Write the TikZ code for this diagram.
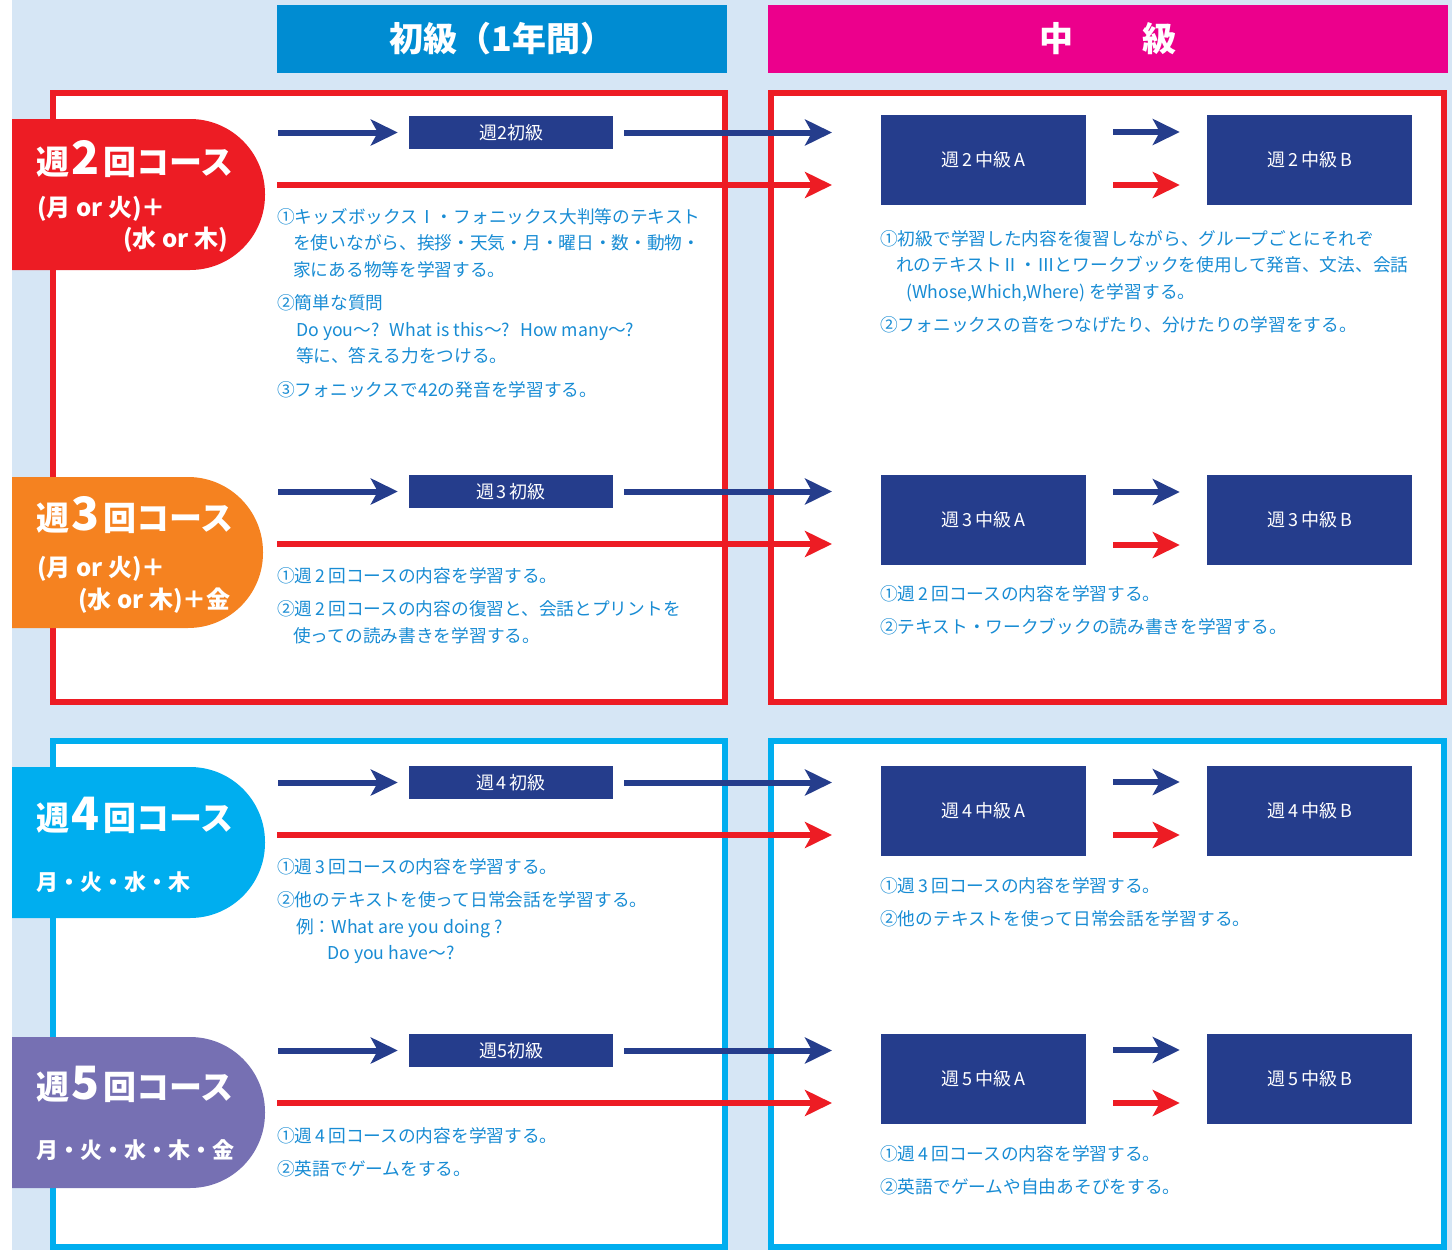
\documentclass[tikz,border=0pt]{standalone}
\usepackage{fontspec}
\setmainfont{Noto Sans CJK JP}
\usepackage{tikz}
\usetikzlibrary{arrows.meta,positioning,calc}
\definecolor{navy}{RGB}{37,61,140}
\definecolor{bgblue}{RGB}{214,230,245}
\definecolor{hdblue}{RGB}{0,140,210}
\definecolor{hdpink}{RGB}{236,0,140}
\definecolor{kred}{RGB}{237,28,36}
\definecolor{korange}{RGB}{245,130,32}
\definecolor{kcyan}{RGB}{0,174,239}
\definecolor{kpurple}{RGB}{118,112,179}
\definecolor{txtblue}{RGB}{24,140,212}
\tikzset{
    header/.style={
           fill=#1,
           text=white,
           minimum height=68pt,
           inner sep=0pt,
           font=\fontsize{34}{34}\selectfont\bfseries,
           },
    frame/.style={
           draw=#1,
           line width=6pt,
           fill=white,
           },
    shokyu/.style={
           fill=navy,
           text=white,
           minimum width=204pt,
           minimum height=33pt,
           inner sep=0pt,
           font=\fontsize{18}{18}\selectfont,
           },
    chukyu/.style={
           fill=navy,
           text=white,
           minimum width=205pt,
           minimum height=90pt,
           inner sep=0pt,
           font=\fontsize{18}{18}\selectfont,
           },
    pil/.style={
           -{Stealth[length=27pt,width=26pt,inset=7pt]},
           line width=6pt,
           draw=#1,
           },
    tabtitle/.style={
           anchor=base west,
           inner sep=0pt,
           text=white,
           font=\fontsize{33}{33}\selectfont\bfseries,
           },
    tabday/.style={
           inner sep=0pt,
           text=white,
           font=\fontsize{24}{24}\selectfont\bfseries,
           },
    note/.style={
           anchor=north west,
           inner sep=0pt,
           align=left,
           text=txtblue,
           font=\fontsize{17.7}{26.5}\selectfont,
           }
}

\begin{document}
\begin{tikzpicture}[x=1pt,y=-1pt]
\useasboundingbox (0,0) rectangle (1452,1250);
\fill[bgblue] (12,0) rectangle (1452,1250);
\node[header=hdblue, minimum width=450pt] (h1) at (502,39) {初級（1年間）};
\node[header=hdpink, minimum width=680pt] (h2) at (1108,39) {中\hspace{70pt}級};
\draw[frame=kred] (53,93) rectangle (725,702);
\draw[frame=kred] (771,93) rectangle (1444,702);
\draw[frame=kcyan] (53,741) rectangle (725,1247);
\draw[frame=kcyan] (771,741) rectangle (1444,1247);
\fill[kred] (12,119) [rounded corners=75pt] -- (265,119) -- (265,270) [sharp corners] -- (12,270) -- cycle;
\fill[korange] (12,477) [rounded corners=75pt] -- (263,477) -- (263,628) [sharp corners] -- (12,628) -- cycle;
\fill[kcyan] (12,767) [rounded corners=75pt] -- (265,767) -- (265,918) [sharp corners] -- (12,918) -- cycle;
\fill[kpurple] (12,1037) [rounded corners=75pt] -- (265,1037) -- (265,1188) [sharp corners] -- (12,1188) -- cycle;
\node[tabtitle] (c2) at (36,174) {週\kern2pt{\fontsize{46}{46}\selectfont 2}\kern4pt回コース};
\node[tabday, anchor=base west] (c2a) at (37,216) {(月 or 火)＋};
\node[tabday, anchor=base east] (c2b) at (228,247) {(水 or 木)};
\node[tabtitle] (c3) at (36,530) {週\kern2pt{\fontsize{46}{46}\selectfont 3}\kern4pt回コース};
\node[tabday, anchor=base west] (c3a) at (37,576) {(月 or 火)＋};
\node[tabday, anchor=base east] (c3b) at (231,608) {(水 or 木)＋金};
\node[tabtitle] (c4) at (36,830) {週\kern2pt{\fontsize{46}{46}\selectfont 4}\kern4pt回コース};
\node[tabday, anchor=base west, font=\fontsize{22}{22}\selectfont\bfseries] (c4a) at (36,890) {月・火・水・木};
\node[tabtitle] (c5) at (36,1099) {週\kern2pt{\fontsize{46}{46}\selectfont 5}\kern4pt回コース};
\node[tabday, anchor=base west, font=\fontsize{22}{22}\selectfont\bfseries] (c5a) at (36,1158) {月・火・水・木・金};
\node[shokyu] (s2) at (511,132.5) {週2初級};
\node[chukyu] (a2) at (983.5,160) {週\,2\,中級\,A};
\node[chukyu] (b2) at (1309.5,160) {週\,2\,中級\,B};
\coordinate (p2) at (278,132.5);
\coordinate (q2) at (832,132.5);
\coordinate (r2) at (277,185);
\coordinate (t2) at (832,185);
\path (p2) edge[pil=navy, shorten >=11pt] (s2);
\path (s2) edge[pil=navy, shorten <=11pt] (q2);
\path (r2) edge[pil=kred] (t2);
\path ([yshift=28pt]a2.east) edge[pil=navy, shorten <=27pt, shorten >=27pt] ([yshift=28pt]b2.west);
\path ([yshift=-25pt]a2.east) edge[pil=kred, shorten <=27pt, shorten >=27pt] ([yshift=-25pt]b2.west);
\node[shokyu] (s3) at (511,491.5) {週\,3\,初級};
\node[chukyu] (a3) at (983.5,520) {週\,3\,中級\,A};
\node[chukyu] (b3) at (1309.5,520) {週\,3\,中級\,B};
\coordinate (p3) at (278,491.5);
\coordinate (q3) at (832,491.5);
\coordinate (r3) at (277,544);
\coordinate (t3) at (832,544);
\path (p3) edge[pil=navy, shorten >=11pt] (s3);
\path (s3) edge[pil=navy, shorten <=11pt] (q3);
\path (r3) edge[pil=kred] (t3);
\path ([yshift=28pt]a3.east) edge[pil=navy, shorten <=27pt, shorten >=27pt] ([yshift=28pt]b3.west);
\path ([yshift=-25pt]a3.east) edge[pil=kred, shorten <=27pt, shorten >=27pt] ([yshift=-25pt]b3.west);
\node[shokyu] (s4) at (511,782.5) {週\,4\,初級};
\node[chukyu] (a4) at (983.5,811) {週\,4\,中級\,A};
\node[chukyu] (b4) at (1309.5,811) {週\,4\,中級\,B};
\coordinate (p4) at (278,782.5);
\coordinate (q4) at (832,782.5);
\coordinate (r4) at (277,835);
\coordinate (t4) at (832,835);
\path (p4) edge[pil=navy, shorten >=11pt] (s4);
\path (s4) edge[pil=navy, shorten <=11pt] (q4);
\path (r4) edge[pil=kred] (t4);
\path ([yshift=29pt]a4.east) edge[pil=navy, shorten <=27pt, shorten >=27pt] ([yshift=29pt]b4.west);
\path ([yshift=-24pt]a4.east) edge[pil=kred, shorten <=27pt, shorten >=27pt] ([yshift=-24pt]b4.west);
\node[shokyu] (s5) at (511,1050.5) {週5初級};
\node[chukyu] (a5) at (983.5,1079) {週\,5\,中級\,A};
\node[chukyu] (b5) at (1309.5,1079) {週\,5\,中級\,B};
\coordinate (p5) at (278,1050.5);
\coordinate (q5) at (832,1050.5);
\coordinate (r5) at (277,1103);
\coordinate (t5) at (832,1103);
\path (p5) edge[pil=navy, shorten >=11pt] (s5);
\path (s5) edge[pil=navy, shorten <=11pt] (q5);
\path (r5) edge[pil=kred] (t5);
\path ([yshift=29pt]a5.east) edge[pil=navy, shorten <=27pt, shorten >=27pt] ([yshift=29pt]b5.west);
\path ([yshift=-24pt]a5.east) edge[pil=kred, shorten <=27pt, shorten >=27pt] ([yshift=-24pt]b5.west);
\node[note] (n2) at (277,208) {①キッズボックスⅠ・フォニックス大判等のテキスト\\
\hspace*{16pt}を使いながら、挨拶・天気・月・曜日・数・動物・\\
\hspace*{16pt}家にある物等を学習する。\\[7pt]
②簡単な質問\\
\hspace*{19pt}Do you～?\hspace{10pt}What is this～?\hspace{10pt}How many～?\\
\hspace*{19pt}等に、答える力をつける。\\[7pt]
③フォニックスで42の発音を学習する。};
\node[note] (n3) at (277,567) {①週\,2\,回コースの内容を学習する。\\[7pt]
②週\,2\,回コースの内容の復習と、会話とプリントを\\
\hspace*{16pt}使っての読み書きを学習する。};
\node[note] (n4) at (277,858) {①週\,3\,回コースの内容を学習する。\\[7pt]
②他のテキストを使って日常会話を学習する。\\
\hspace*{19pt}例：What are you doing ?\\
\hspace*{50pt}Do you have～?};
\node[note] (n5) at (277,1127) {①週\,4\,回コースの内容を学習する。\\[7pt]
②英語でゲームをする。};
\node[note] (m2) at (880,230) {①初級で学習した内容を復習しながら、グループごとにそれぞ\\
\hspace*{16pt}れのテキストⅡ・Ⅲとワークブックを使用して発音、文法、会話\\
\hspace*{26pt}(Whose,Which,Where) を学習する。\\[7pt]
②フォニックスの音をつなげたり、分けたりの学習をする。};
\node[note] (m3) at (880,585) {①週\,2\,回コースの内容を学習する。\\[7pt]
②テキスト・ワークブックの読み書きを学習する。};
\node[note] (m4) at (880,877) {①週\,3\,回コースの内容を学習する。\\[7pt]
②他のテキストを使って日常会話を学習する。};
\node[note] (m5) at (880,1145) {①週\,4\,回コースの内容を学習する。\\[7pt]
②英語でゲームや自由あそびをする。};
\end{tikzpicture}
\end{document}
